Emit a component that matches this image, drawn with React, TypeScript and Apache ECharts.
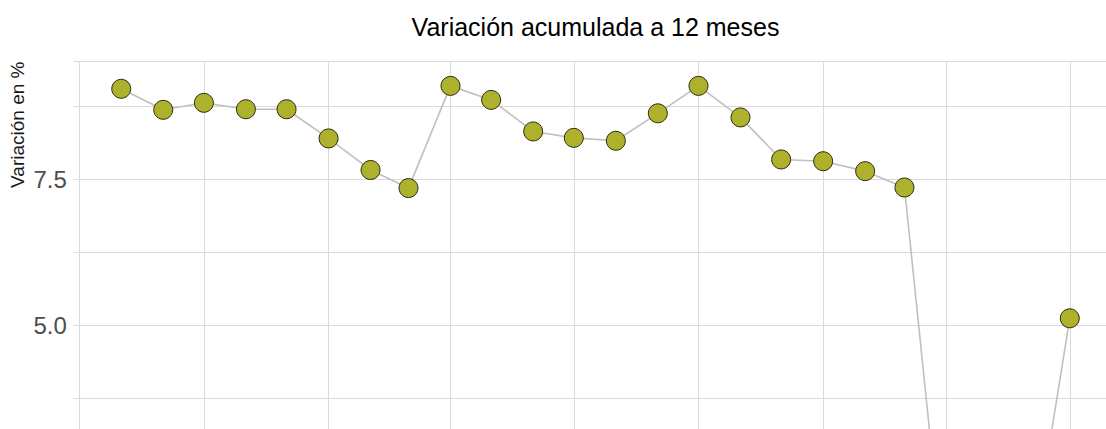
import React, { useEffect, useRef } from "react";
import * as echarts from "echarts";

const title = "Variación acumulada a 12 meses";
const yTitle = "Variación en %";

const months = [
  "2018-08-01", "2018-09-01", "2018-10-01", "2018-11-01", "2018-12-01", "2019-01-01",
  "2019-02-01", "2019-03-01", "2019-04-01", "2019-05-01", "2019-06-01", "2019-07-01",
  "2019-08-01", "2019-09-01", "2019-10-01", "2019-11-01", "2019-12-01", "2020-01-01",
  "2020-02-01", "2020-03-01", "2020-04-01", "2020-05-01", "2020-06-01", "2020-07-01",
];
const values = [
  9.05, 8.69, 8.81, 8.7, 8.7, 8.2, 7.66, 7.35, 9.1, 8.86, 8.32, 8.21,
  8.16, 8.63, 9.1, 8.56, 7.84, 7.81, 7.64, 7.36, 0.39, 0.6, 0.8, 5.12,
];
const xBreaks = [
  "2018-07-01", "2018-10-01", "2019-01-01", "2019-04-01", "2019-07-01",
  "2019-10-01", "2020-01-01", "2020-04-01", "2020-07-01",
];
// tick labels visible in the picture
const yTickLabels = [5.0, 7.5];
const yMin = 0;
const yMax = 9.526;
const yStep = 1.25;

const toMs = (s: string) => new Date(s + "T00:00:00").getTime();

const W = 1140;
const H = 660;
const FONT = '"Liberation Sans", Arial, Helvetica, sans-serif';

export default function App() {
  const ref = useRef<HTMLDivElement>(null);
  useEffect(() => {
    if (!ref.current) return;
    const chart = echarts.init(ref.current, undefined, { renderer: "svg" });
    const t0 = toMs(months[0]);
    const tN = toMs(months[months.length - 1]);
    const span = tN - t0;
    const gridLeft = 73.8;
    const gridWidth = 1043.4;
    const gridTop = 61;
    const gridHeight = (yMax - yMin) * 58.4;
    chart.setOption({
      animation: false,
      backgroundColor: "#ffffff",
      grid: {
        left: gridLeft,
        top: gridTop,
        width: gridWidth,
        height: gridHeight,
        containLabel: false,
      },
      xAxis: {
        type: "time",
        min: t0 - 0.05 * span,
        max: tN + 0.05 * span,
        axisLine: { show: false },
        axisTick: { show: false },
        axisLabel: { show: false },
        splitLine: { show: false },
      },
      yAxis: {
        type: "value",
        min: yMin,
        max: yMax,
        interval: yStep,
        axisLine: { show: false },
        axisTick: { show: false },
        axisLabel: {
          margin: 7,
          color: "#4d4d4d",
          fontSize: 24,
          fontFamily: FONT,
          showMaxLabel: false,
          showMinLabel: false,
          formatter: (v: number) =>
            yTickLabels.some((t) => Math.abs(t - v) < 1e-6) ? v.toFixed(1) : "",
        },
        splitLine: { show: true, lineStyle: { color: "#dadada", width: 1 } },
      },
      graphic: [
        {
          type: "text",
          x: gridLeft + gridWidth / 2,
          y: 27,
          style: {
            text: title,
            fontSize: 25,
            fontFamily: FONT,
            fill: "#000000",
            textAlign: "center",
            textVerticalAlign: "middle",
            align: "center",
            verticalAlign: "middle",
          },
        },
        {
          type: "text",
          x: 17.5,
          y: 61.5,
          rotation: Math.PI / 2,
          style: {
            text: yTitle,
            fontSize: 19,
            fontFamily: FONT,
            fill: "#1a1a1a",
            textAlign: "right",
            textVerticalAlign: "middle",
            align: "right",
            verticalAlign: "middle",
          },
        },
      ],
      series: [
        {
          type: "line",
          data: months.map((m, i) => [toMs(m), values[i]]),
          symbol: "circle",
          symbolSize: 19,
          z: 3,
          lineStyle: { color: "#c0c0c0", width: 1.6 },
          itemStyle: { color: "#aeb12c", borderColor: "#2b2b10", borderWidth: 1 },
          markLine: {
            silent: true,
            z: 1,
            symbol: ["none", "none"],
            label: { show: false },
            lineStyle: { color: "#dadada", width: 1, type: "solid" },
            data: xBreaks.map((b) => ({ xAxis: toMs(b) })),
          },
        },
      ],
    });
    return () => chart.dispose();
  }, []);
  return (
    <div
      style={{
        position: "fixed",
        left: 0,
        top: 0,
        width: 1106,
        height: 429,
        overflow: "hidden",
        background: "#ffffff",
      }}
    >
      <div ref={ref} style={{ position: "absolute", left: 0, top: 0, width: W, height: H }} />
    </div>
  );
}
